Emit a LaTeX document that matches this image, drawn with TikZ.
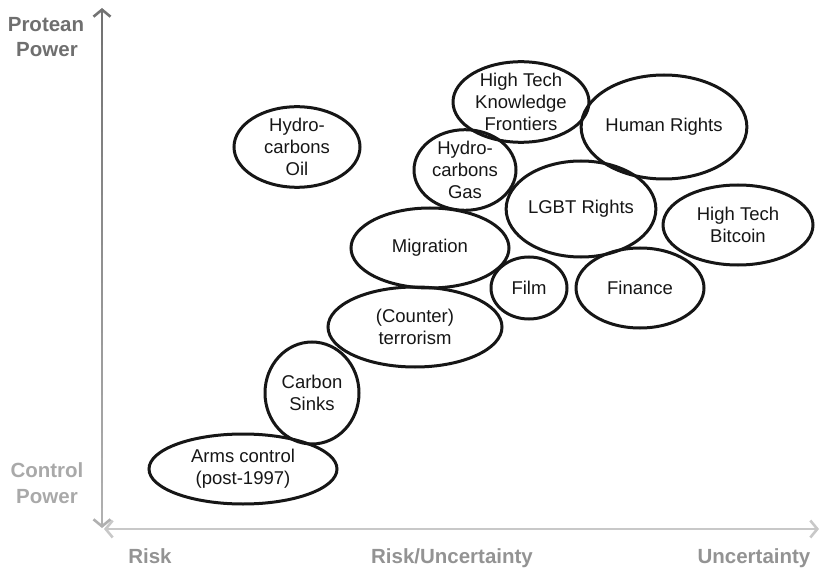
\documentclass[tikz,border=0pt]{standalone}
\usepackage{fontspec}
\setmainfont{Liberation Sans}
\usetikzlibrary{shapes.geometric,arrows.meta}
\definecolor{toplab}{HTML}{6F6F6F}
\definecolor{botlab}{HTML}{A9A9A9}
\definecolor{axlab}{HTML}{939393}
\definecolor{haxis}{HTML}{C8C8C8}
\definecolor{ink}{HTML}{161616}
\tikzset{
  bubble/.style={ellipse, draw=ink, line width=3pt, inner sep=0pt, align=center,
    text=ink, font=\fontsize{18.5}{21.7}\selectfont},
  axislabel/.style={font=\fontsize{20.5}{25.5}\selectfont\bfseries, anchor=base, inner sep=0pt},
  barb/.style={-{Straight Barb[length=7pt,width=17pt,line width=2.6pt]}},
}
\begin{document}
\begin{tikzpicture}[x=1pt,y=-1pt]
\useasboundingbox (0,0) rectangle (821,569);
% axes
\coordinate (vtop) at (102,8);
\coordinate (vbot) at (102,528);
\coordinate (hleft) at (104,529);
\coordinate (hright) at (819,529);
\foreach \i in {0,...,39}{
  \pgfmathsetmacro{\p}{55-24*\i/39}
  \pgfmathsetmacro{\ya}{20+\i*12.5}
  \pgfmathsetmacro{\yb}{20+(\i+1)*12.5+0.6}
  \draw[line width=2.8pt, color=black!\p!white] (102,\ya) -- (102,\yb);
}
\draw[line width=2.8pt, color=black!55!white, barb] (102,24) -- (vtop);
\draw[line width=2.8pt, color=black!31!white, barb] (102,510) -- (vbot);
\draw[line width=2.8pt, color=haxis, {Straight Barb[length=7pt,width=17pt,line width=2.6pt]}-{Straight Barb[length=7pt,width=17pt,line width=2.6pt]}] (hleft) -- (hright);
% axis labels
\node[axislabel, text=toplab] (prot) at (46,32) {Protean};
\node[axislabel, text=toplab] (ppow) at (47,57) {Power};
\node[axislabel, text=botlab] (ctrl) at (47,477) {Control};
\node[axislabel, text=botlab] (cpow) at (47,503) {Power};
\node[axislabel, text=axlab] (risk) at (150,563) {Risk};
\node[axislabel, text=axlab] (ru) at (452,563) {Risk/Uncertainty};
\node[axislabel, text=axlab] (unc) at (754,563) {Uncertainty};
% bubbles
\node[bubble, minimum width=126pt, minimum height=80pt] (oil) at (297,147) {Hydro-\\carbons\\Oil};
\node[bubble, minimum width=136pt, minimum height=76pt] (htk) at (521,102) {High Tech\\Knowledge\\Frontiers};
\node[bubble, minimum width=160pt, minimum height=104pt] (hr) at (664,127) {Human Rights};
\node[bubble, minimum width=102pt, minimum height=78pt] (gas) at (465,170) {Hydro-\\carbons\\Gas};
\node[bubble, minimum width=148pt, minimum height=96pt] (lgbt) at (581,209) {LGBT Rights};
\node[bubble, minimum width=150pt, minimum height=80pt] (btc) at (738,225) {High Tech\\Bitcoin};
\node[bubble, minimum width=158pt, minimum height=80pt] (mig) at (430,248) {Migration};
\node[bubble, minimum width=76pt, minimum height=62pt] (film) at (529,288) {Film};
\node[bubble, minimum width=128pt, minimum height=80pt] (fin) at (640,288) {Finance};
\node[bubble, minimum width=174pt, minimum height=80pt] (ter) at (415,327) {(Counter)\\terrorism};
\node[bubble, minimum width=94pt, minimum height=102pt] (cs) at (312,393) {Carbon\\Sinks};
\node[bubble, minimum width=188pt, minimum height=70pt] (arms) at (243,469) {Arms control\\(post-1997)};
\end{tikzpicture}
\end{document}
